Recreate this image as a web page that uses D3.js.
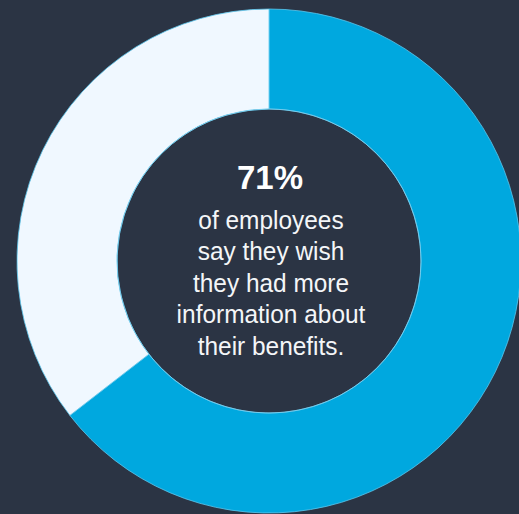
<!DOCTYPE html>
<html>
<head>
<meta charset="utf-8">
<script src="https://cdn.jsdelivr.net/npm/d3@7"></script>
<style>
  html, body { margin: 0; padding: 0; background: #2b3444; overflow: hidden; }
</style>
</head>
<body>
<div id="chart"></div>
<script>
// Slice data
const sliceLabels = ['Wish for more info', 'Other'];
const sliceValues = [64.5, 35.5];
const sliceColors = ['#00a8df', '#f0f8ff'];

// Centre text
const headline = '71%';
const bodyLines = ['of employees', 'say they wish', 'they had more', 'information about', 'their benefits.'];

const width = 519;
const height = 514;
const cx = 269;
const cy = 261;
const outerR = 252;
const innerR = 152;

const svg = d3.select('#chart')
    .append('svg')
    .attr('width', width)
    .attr('height', height);

svg.append('rect')
    .attr('width', width)
    .attr('height', height)
    .attr('fill', '#2b3444');

const g = svg.append('g')
    .attr('transform', `translate(${cx}, ${cy})`);

// Pie layout keeps the order: blue starts at 12 o'clock, clockwise
const pie = d3.pie()
    .sort(null)
    .value(d => d.value);

const arc = d3.arc()
    .innerRadius(innerR)
    .outerRadius(outerR);

const data = sliceLabels.map((label, i) => ({ label: label, value: sliceValues[i], color: sliceColors[i] }));

g.selectAll('path.slice')
    .data(pie(data))
    .enter()
    .append('path')
    .attr('class', 'slice')
    .attr('d', arc)
    .attr('fill', d => d.data.color)
    .attr('stroke', '#5cc6ee')
    .attr('stroke-width', 0.8);

// Thin light rim round the inner hole
g.append('circle')
    .attr('r', innerR)
    .attr('fill', 'none')
    .attr('stroke', '#7fd3f2')
    .attr('stroke-width', 0.8);

// Headline
g.append('text')
    .attr('x', 1)
    .attr('y', -72)
    .attr('text-anchor', 'middle')
    .style('font-family', '"Liberation Sans", Arial, sans-serif')
    .style('font-weight', 'bold')
    .style('font-size', '33px')
    .style('fill', '#ffffff')
    .text(headline);

// Body lines, a bit condensed like the original face
const lineHeight = 31.6;
const bodyG = g.append('g')
    .attr('transform', 'translate(2, 0) scale(0.94, 1)');

bodyG.selectAll('text.body')
    .data(bodyLines)
    .enter()
    .append('text')
    .attr('class', 'body')
    .attr('x', 0)
    .attr('y', (d, i) => -32.5 + i * lineHeight)
    .attr('text-anchor', 'middle')
    .style('font-family', '"Liberation Sans", Arial, sans-serif')
    .style('font-size', '26px')
    .style('fill', '#f4f6f8')
    .text(d => d);
</script>
</body>
</html>
